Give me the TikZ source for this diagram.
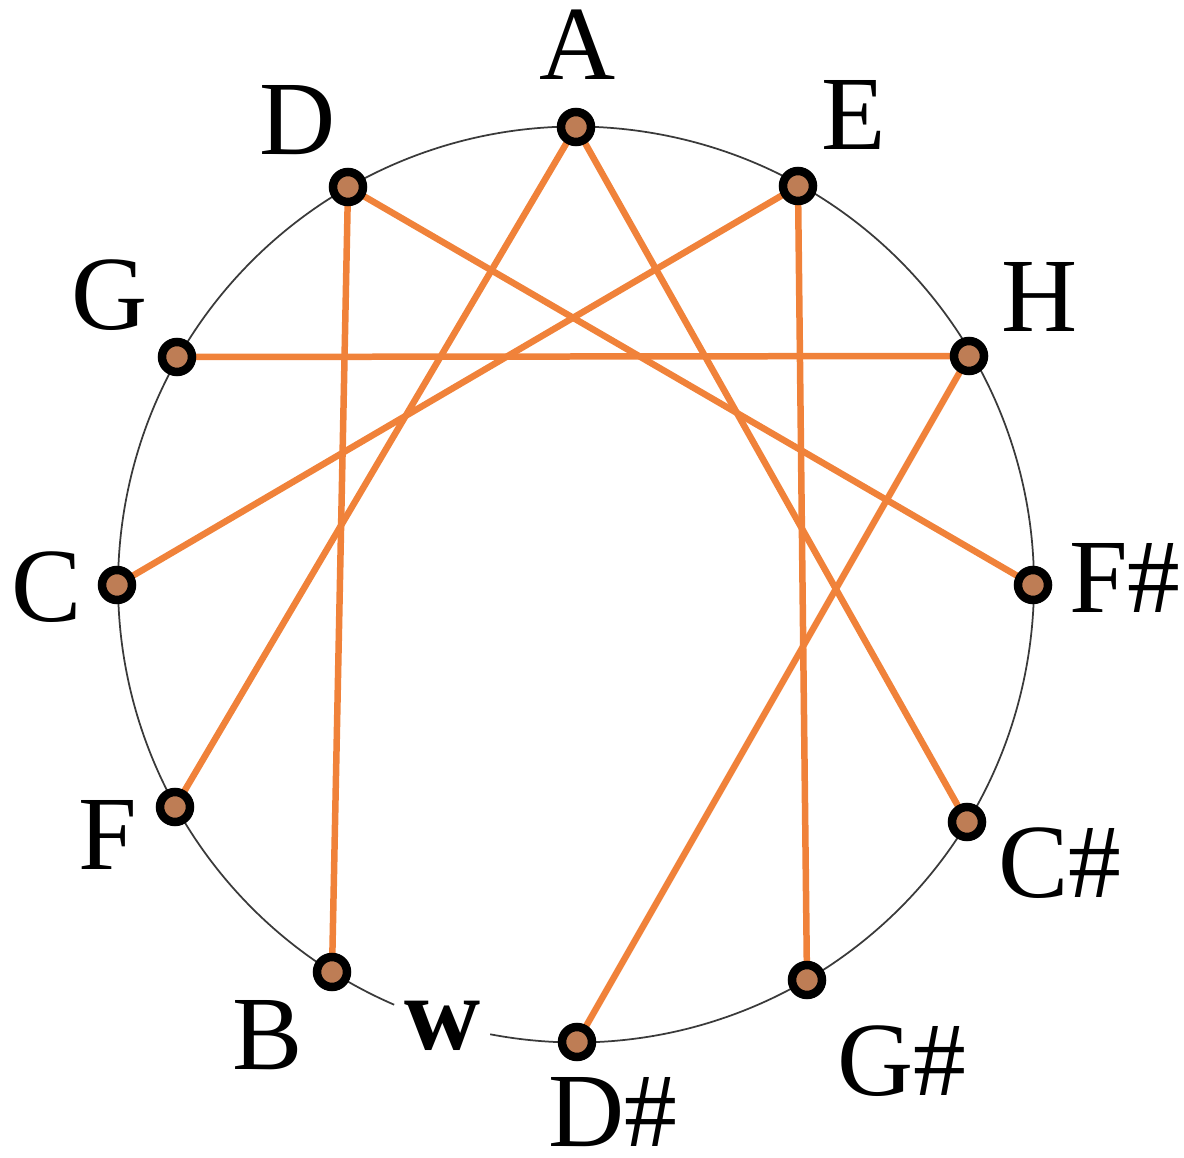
\documentclass[tikz,border=0pt]{standalone}
\usepackage{fontspec}
\setmainfont{Liberation Serif}
\usetikzlibrary{backgrounds}
\definecolor{chordorange}{HTML}{F0823A}
\definecolor{dotbrown}{HTML}{BE7D55}
\definecolor{ringgrey}{HTML}{3A3A3A}
\begin{document}
\begin{tikzpicture}[x=0.02cm,y=-0.02cm,
  dot/.style={circle,draw=black,fill=dotbrown,line width=0.17cm,minimum size=0.6cm,inner sep=0pt},
  lbl/.style={anchor=base,inner sep=0pt,font=\fontsize{60}{60}\selectfont},
  chord/.style={draw=chordorange,line width=0.13cm},
  ring/.style={draw=ringgrey,line width=0.035cm}]
\useasboundingbox (0,0) rectangle (1184,1158);
\coordinate (ctr) at (576,584.5);
% outer circle with a gap near the w
\draw[ring] (ctr) ++(-100.8:9.16cm) arc[start angle=-100.8, end angle=246.6, radius=9.16cm];
% points
\node[dot] (A)  at (576,127) {};
\node[dot] (E)  at (798,186) {};
\node[dot] (H)  at (969,356) {};
\node[dot] (Fs) at (1033,585) {};
\node[dot] (Cs) at (967,822) {};
\node[dot] (Gs) at (807,980) {};
\node[dot] (Ds) at (577,1042) {};
\node[dot] (B)  at (332,972) {};
\node[dot] (F)  at (175,807) {};
\node[dot] (C)  at (117,585) {};
\node[dot] (G)  at (177,357) {};
\node[dot] (D)  at (348,187) {};
% chords
\begin{scope}[on background layer]
\draw[chord] (D.center) -- (Fs.center);
\draw[chord] (D.center) -- (B.center);
\draw[chord] (A.center) -- (F.center);
\draw[chord] (A.center) -- (Cs.center);
\draw[chord] (E.center) -- (C.center);
\draw[chord] (E.center) -- (Gs.center);
\draw[chord] (G.center) -- (H.center);
\draw[chord] (H.center) -- (Ds.center);
\end{scope}
% labels
\node[lbl] (lA)  at (578,80)   {A};
\node[lbl] (lD)  at (298,155)  {D};
\node[lbl] (lE)  at (854,150)  {E};
\node[lbl] (lG)  at (110,330)  {G};
\node[lbl] (lH)  at (1040,332) {H};
\node[lbl] (lC)  at (47,622)   {C};
\node[lbl] (lFs) at (1125,613) {F\#};
\node[lbl] (lF)  at (108,869)  {F};
\node[lbl] (lCs) at (1060,897) {C\#};
\node[lbl] (lB)  at (268,1069) {B};
\node[lbl] (lw)  at (443,1049) {\bfseries w};
\node[lbl] (lDs) at (613,1146) {D\#};
\node[lbl] (lGs) at (902,1095) {G\#};
\end{tikzpicture}
\end{document}
